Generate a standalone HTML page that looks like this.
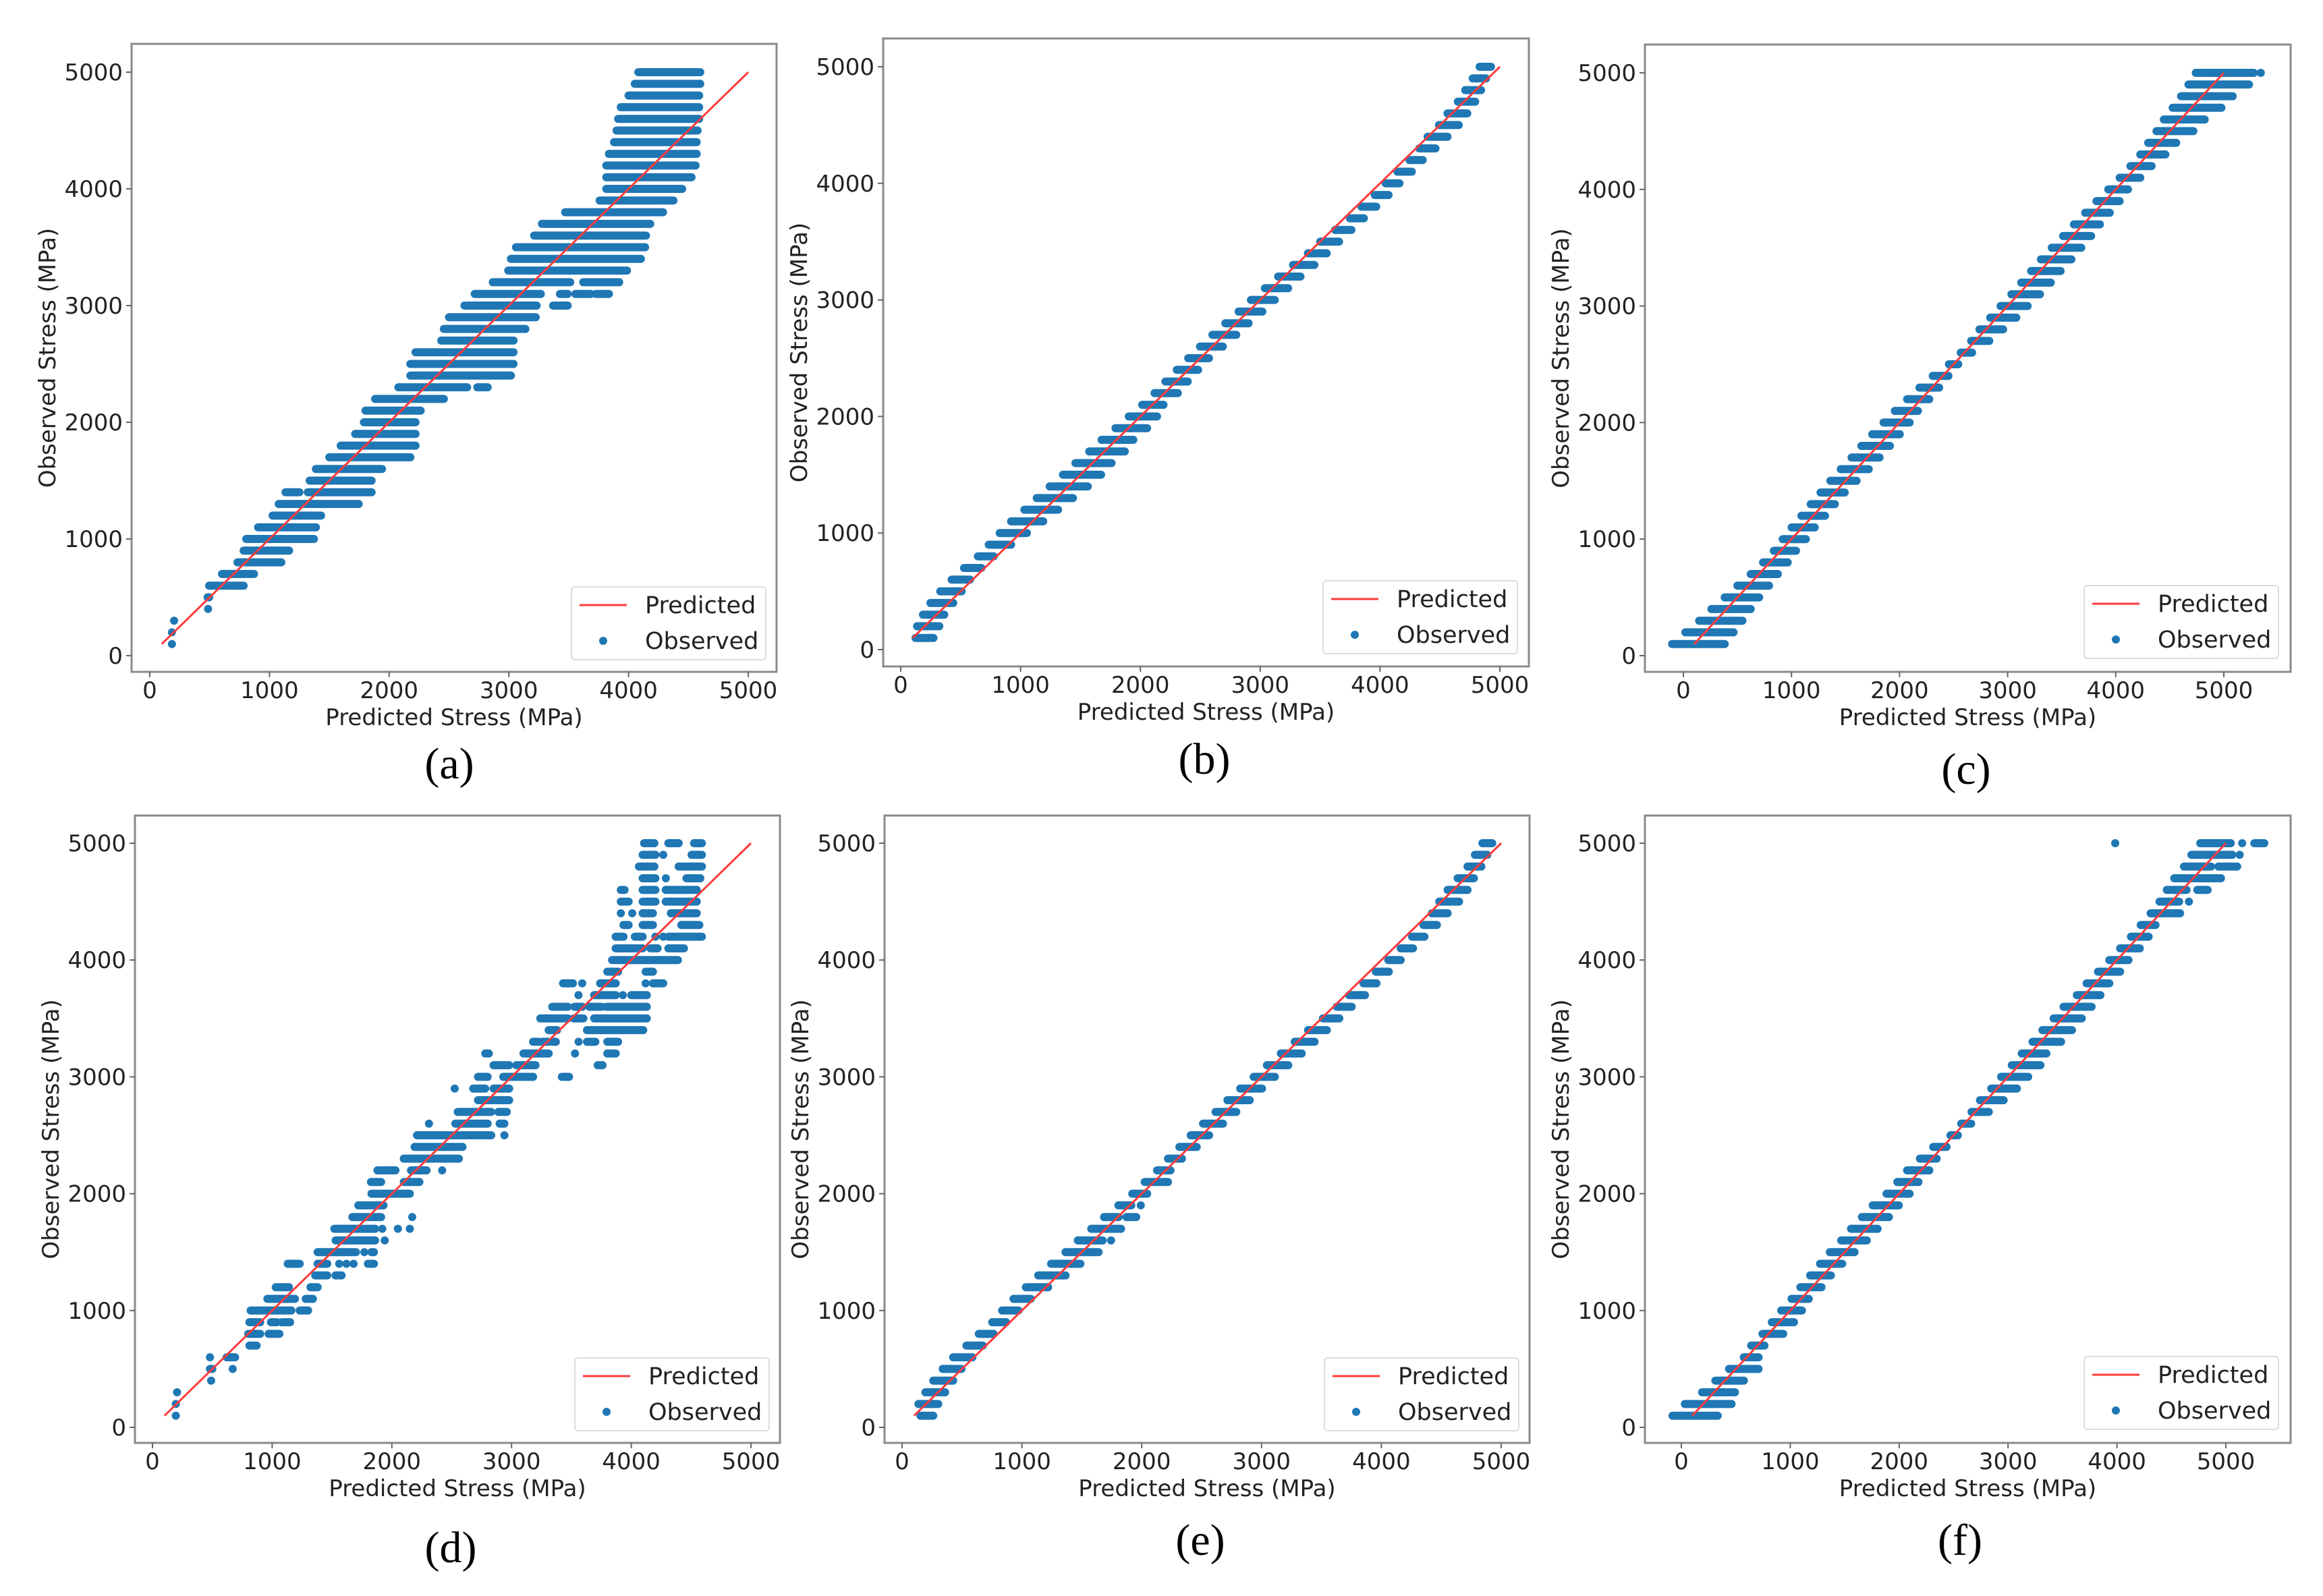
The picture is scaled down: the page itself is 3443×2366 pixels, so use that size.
<!DOCTYPE html>
<html><head><meta charset="utf-8"><title>Predicted vs Observed Stress</title>
<style>html,body{margin:0;padding:0;background:#fff}svg{display:block}</style></head>
<body>
<svg id="chart" xmlns="http://www.w3.org/2000/svg" width="3443" height="2366" viewBox="0 0 3443 2366">
<rect x="0" y="0" width="3443" height="2366" fill="#fff"/>
</svg>
<script>
// ---- data (MPa) ----
const stressLevels = [100,200,300,400,500,600,700,800,900,1000,1100,1200,1300,1400,1500,1600,1700,1800,1900,2000,2100,2200,2300,2400,2500,2600,2700,2800,2900,3000,3100,3200,3300,3400,3500,3600,3700,3800,3900,4000,4100,4200,4300,4400,4500,4600,4700,4800,4900,5000];
const tickValues = [0,1000,2000,3000,4000,5000];
const tickLabels = ["0","1000","2000","3000","4000","5000"];
const fitLineStart = [100,100];
const fitLineEnd = [5000,5000];
const panelLetters = ["(a)","(b)","(c)","(d)","(e)","(f)"];

const predRangesA = [[[185,185]],[[185,185]],[[203,203]],[[487,487]],[[483,496]],[[496,784]],[[603,871]],[[733,1099]],[[784,1164]],[[806,1371]],[[905,1388]],[[1026,1431]],[[1077,1745]],[[1134,1250],[1320,1853]],[[1336,1853]],[[1388,1940]],[[1500,2177]],[[1595,2220]],[[1716,2220]],[[1789,2220]],[[1802,2263]],[[1883,2457]],[[2077,2651],[2737,2823]],[[2177,3017]],[[2177,3039]],[[2220,3039]],[[2435,3039]],[[2457,3138]],[[2500,3224]],[[2629,3232],[3370,3491]],[[2715,3267],[3427,3491],[3556,3685],[3728,3836]],[[2866,3513],[3621,3922]],[[2995,3987]],[[3017,4103]],[[3060,4138]],[[3211,4146]],[[3276,4181]],[[3470,4288]],[[3758,4375]],[[3814,4448]],[[3814,4526]],[[3814,4560]],[[3836,4569]],[[3879,4569]],[[3900,4577]],[[3913,4590]],[[3935,4590]],[[4000,4590]],[[4052,4599]],[[4082,4599]]];

const predRangesB = [[[124,273]],[[136,322]],[[186,363]],[[248,438]],[[330,508]],[[425,578]],[[528,673]],[[644,776]],[[735,921]],[[826,1053]],[[921,1189]],[[1032,1313]],[[1135,1437]],[[1243,1561]],[[1354,1672]],[[1458,1759]],[[1573,1870]],[[1676,1941]],[[1792,2056]],[[1903,2139]],[[2015,2193]],[[2118,2312]],[[2209,2395]],[[2304,2482]],[[2399,2572]],[[2498,2688]],[[2601,2800]],[[2709,2903]],[[2820,3018]],[[2923,3121]],[[3039,3233]],[[3150,3336]],[[3274,3452]],[[3398,3555]],[[3501,3658]],[[3625,3761]],[[3749,3865]],[[3844,3968]],[[3956,4071]],[[4046,4162]],[[4145,4265]],[[4245,4356]],[[4327,4463]],[[4397,4563]],[[4492,4657]],[[4563,4728]],[[4649,4794]],[[4711,4843]],[[4773,4885]],[[4831,4926]]];

const predRangesC = [[[-105,382]],[[18,464]],[[146,546]],[[259,623]],[[382,701]],[[500,792]],[[623,874]],[[737,965]],[[837,1042]],[[919,1133]],[[1001,1215]],[[1092,1310]],[[1178,1401]],[[1269,1492]],[[1360,1602]],[[1456,1715]],[[1556,1815]],[[1647,1911]],[[1747,2002]],[[1852,2093]],[[1956,2170]],[[2070,2275]],[[2184,2366]],[[2307,2452]],[[2457,2543]],[[2566,2671]],[[2662,2830]],[[2739,2958]],[[2839,3080]],[[2935,3185]],[[3035,3299]],[[3126,3399]],[[3217,3490]],[[3308,3590]],[[3408,3681]],[[3513,3772]],[[3613,3854]],[[3717,3945]],[[3822,4036]],[[3931,4113]],[[4036,4227]],[[4136,4332]],[[4227,4459]],[[4300,4559]],[[4377,4718]],[[4445,4823]],[[4527,4978]],[[4605,5082]],[[4673,5233]],[[4741,5278],[5342,5342]]];

const predRangesD = [[[195,195]],[[195,195]],[[205,205]],[[490,490]],[[480,500],[670,670]],[[480,480],[620,690]],[[810,870]],[[800,900],[970,1060]],[[810,900],[990,1040],[1080,1150]],[[820,1160],[1230,1300]],[[960,1190],[1280,1340]],[[1030,1140],[1320,1380]],[[1360,1460],[1530,1580]],[[1130,1230],[1380,1460],[1560,1560],[1620,1620],[1680,1680],[1800,1850]],[[1380,1700],[1770,1770],[1830,1850]],[[1530,1860],[1940,1940]],[[1520,1860],[1920,1920],[2050,2050],[2150,2150]],[[1670,1910],[2170,2170]],[[1720,1930]],[[1830,2150]],[[1825,1910],[2100,2230]],[[1880,2030],[2160,2290],[2420,2420]],[[2100,2560]],[[2190,2590]],[[2210,2830],[2940,2940]],[[2310,2310],[2530,2800],[2900,2940]],[[2550,2830],[2890,2960]],[[2720,2980]],[[2525,2525],[2680,2780],[2850,2980]],[[2720,2800],[2930,3180],[3420,3480]],[[2850,2980],[3040,3200],[3720,3760]],[[2780,2810],[3100,3310],[3530,3530],[3800,3870]],[[3180,3230],[3260,3310],[3340,3370],[3560,3560],[3630,3700],[3800,3890]],[[3310,3380],[3630,4100]],[[3240,3470],[3520,3600],[3690,4130]],[[3340,3470],[3525,3590],[3650,3750],[3790,4130]],[[3559,3559],[3690,3870],[3930,3930],[4000,4130]],[[3430,3513],[3590,3590],[3740,3870],[4120,4120],[4181,4267]],[[3800,3890],[4120,4181]],[[3840,4390]],[[3870,4095],[4160,4220],[4310,4440]],[[3870,3935],[4030,4095],[4202,4202],[4267,4267],[4310,4590]],[[3935,3978],[4095,4181],[4418,4569]],[[3913,3913],[4008,4008],[4095,4181],[4331,4547]],[[3913,3978],[4095,4202],[4288,4547]],[[3913,3944],[4095,4202],[4288,4547]],[[4095,4202],[4289,4289],[4461,4577]],[[4064,4193],[4396,4590]],[[4095,4202],[4267,4267],[4504,4590]],[[4107,4193],[4310,4396],[4525,4590]]];

const predRangesE = [[[153,260]],[[136,302]],[[194,359]],[[260,426]],[[339,496]],[[426,587]],[[537,674]],[[640,764]],[[752,868]],[[835,971]],[[930,1074]],[[1033,1219]],[[1136,1364]],[[1244,1488]],[[1364,1640]],[[1467,1674],[1744,1744]],[[1579,1827]],[[1686,1806],[1872,1954]],[[1806,1913],[1992,1992]],[[1921,2045]],[[2025,2219]],[[2128,2240]],[[2219,2335]],[[2314,2459]],[[2409,2562]],[[2512,2678]],[[2616,2789]],[[2715,2901]],[[2822,3004]],[[2934,3111]],[[3045,3223]],[[3161,3335]],[[3277,3442]],[[3388,3545]],[[3512,3649]],[[3628,3752]],[[3731,3863]],[[3851,3959]],[[3954,4062]],[[4058,4161]],[[4161,4264]],[[4256,4359]],[[4351,4463]],[[4421,4553]],[[4483,4648]],[[4553,4719]],[[4636,4772]],[[4719,4834]],[[4781,4884]],[[4843,4925]]];

const predRangesF = [[[-81,334]],[[32,461]],[[190,492]],[[312,574]],[[438,709]],[[574,709]],[[641,763]],[[745,935]],[[831,1034]],[[917,1107]],[[1012,1170]],[[1093,1287]],[[1183,1373]],[[1274,1477]],[[1364,1590]],[[1468,1703]],[[1558,1802]],[[1658,1906]],[[1757,1997]],[[1884,2096]],[[1983,2177]],[[2073,2277]],[[2191,2344]],[[2313,2435]],[[2471,2539]],[[2570,2661]],[[2665,2823]],[[2742,2959]],[[2846,3081]],[[2936,3185]],[[3035,3297]],[[3126,3352]],[[3225,3487]],[[3316,3587]],[[3419,3677]],[[3510,3767]],[[3632,3848]],[[3722,3930]],[[3826,4029]],[[3930,4106]],[[4029,4210]],[[4129,4291]],[[4219,4354]],[[4309,4580]],[[4391,4571],[4661,4661]],[[4458,4639],[4738,4833]],[[4526,4955]],[[4616,4864],[4932,5104]],[[4684,5059],[5127,5127]],[[3984,3984],[4765,5045],[5150,5150],[5262,5353]]];

// ---- layout (pixels) ----
const panelLayouts = [
 {id:'a',L:195,T:65,R:1151,B:996,x0:222,x5:1109,y0:972,y5:107,lx:847,ly:870,tx:666,ty:1132,ranges:predRangesA},
 {id:'b',L:1309,T:57,R:2266,B:988,x0:1335,x5:2223,y0:963,y5:99,lx:1961,ly:861,tx:1785,ty:1125,ranges:predRangesB},
 {id:'c',L:2438,T:66,R:3395,B:996,x0:2495,x5:3296,y0:972,y5:108,lx:3089,ly:868,tx:2914,ty:1140,ranges:predRangesC},
 {id:'d',L:200,T:1209,R:1156,B:2139,x0:226,x5:1113,y0:2116,y5:1250,lx:852,ly:2013,tx:668,ty:2294,ranges:predRangesD},
 {id:'e',L:1311,T:1209,R:2267,B:2139,x0:1337,x5:2225,y0:2116,y5:1250,lx:1963,ly:2013,tx:1779,ty:2283,ranges:predRangesE},
 {id:'f',L:2438,T:1209,R:3395,B:2139,x0:2492,x5:3299,y0:2116,y5:1250,lx:3089,ly:2011,tx:2905,ty:2283,ranges:predRangesF}
];

const NS = 'http://www.w3.org/2000/svg';
const svg = document.getElementById('chart');
const FONT = '"DejaVu Sans","Liberation Sans",sans-serif';
const BLUE = '#1f77b4';
function mk(tag, attrs, parent){
  const e = document.createElementNS(NS, tag);
  for (const k in attrs) e.setAttribute(k, attrs[k]);
  (parent||svg).appendChild(e);
  return e;
}

panelLayouts.forEach((p, pi) => {
  const xs = v => p.x0 + (v/5000)*(p.x5 - p.x0);
  const ys = v => p.y0 + (v/5000)*(p.y5 - p.y0);
  const g = mk('g', {});
  
  

  const sg = mk('g', {stroke: BLUE, 'stroke-width': 12, 'stroke-linecap': 'round', fill: 'none'}, g);
  
  
  stressLevels.forEach((lvl, i) => {
    const segs = p.ranges[i] || [];
    segs.forEach(r => {
      const x1 = xs(r[0]), x2 = xs(r[1]) + (r[1] === r[0] ? 0.01 : 0), y = ys(lvl);
      const pth = mk('path', {d: `M${x1.toFixed(1)} ${y.toFixed(1)}L${x2.toFixed(2)} ${y.toFixed(1)}`}, sg);
      
      
    });
  });

  const ln = mk('line', {x1: xs(fitLineStart[0]), y1: ys(fitLineStart[1]), x2: xs(fitLineEnd[0]), y2: ys(fitLineEnd[1]), stroke: '#ff3b3b', 'stroke-width': 3}, g);
  
  

  const fr = mk('rect', {x: p.L, y: p.T, width: p.R - p.L, height: p.B - p.T, fill: 'none', stroke: '#8a8a8a', 'stroke-width': 3}, g);
  
  

  tickValues.forEach((v, i) => {
    const tx = xs(v);
    const t1 = mk('line', {x1: tx, y1: p.B, x2: tx, y2: p.B + 8, stroke: '#666', 'stroke-width': 2}, g);
    
    
    const lb = mk('text', {x: tx, y: p.B + 39, 'text-anchor': 'middle', 'font-family': FONT, 'font-size': 34, fill: '#222'}, g);
    lb.textContent = tickLabels[i];
    
    
    const ty = ys(v);
    const t2 = mk('line', {x1: p.L - 8, y1: ty, x2: p.L, y2: ty, stroke: '#666', 'stroke-width': 2}, g);
    
    
    const yl = mk('text', {x: p.L - 13, y: ty + 12, 'text-anchor': 'end', 'font-family': FONT, 'font-size': 34, fill: '#222'}, g);
    yl.textContent = tickLabels[i];
    
    
  });

  const xt = mk('text', {x: (p.L + p.R)/2, y: p.B + 79, 'text-anchor': 'middle', 'font-family': FONT, 'font-size': 34, fill: '#222'}, g);
  xt.textContent = 'Predicted Stress (MPa)';
  
  
  const cx = p.L - 125, cy = (p.T + p.B)/2;
  const yt = mk('text', {x: cx, y: cy + 12, 'text-anchor': 'middle', 'font-family': FONT, 'font-size': 34, fill: '#222', transform: `rotate(-90 ${cx} ${cy})`}, g);
  yt.textContent = 'Observed Stress (MPa)';
  
  

  const lg = mk('g', {}, g);
  
  
  mk('rect', {x: p.lx, y: p.ly, width: 288, height: 108, rx: 5, fill: '#fff', 'fill-opacity': 0.85, stroke: '#dcdcdc', 'stroke-width': 2}, lg);
  const ll = mk('line', {x1: p.lx + 12, y1: p.ly + 27, x2: p.lx + 82, y2: p.ly + 27, stroke: '#ff3b3b', 'stroke-width': 3}, lg);
  
  
  const lt1 = mk('text', {x: p.lx + 109, y: p.ly + 39, 'font-family': FONT, 'font-size': 35, fill: '#222'}, lg);
  lt1.textContent = 'Predicted';
  
  
  const ld = mk('circle', {cx: p.lx + 47, cy: p.ly + 80, r: 6, fill: BLUE}, lg);
  
  
  const lt2 = mk('text', {x: p.lx + 109, y: p.ly + 92, 'font-family': FONT, 'font-size': 35, fill: '#222'}, lg);
  lt2.textContent = 'Observed';
  
  

  const pl = mk('text', {x: p.tx, y: p.ty + 22, 'text-anchor': 'middle', 'font-family': '"Liberation Serif",serif', 'font-size': 66, fill: '#000'}, g);
  pl.textContent = panelLetters[pi];
  
  
});
</script>
</body></html>
